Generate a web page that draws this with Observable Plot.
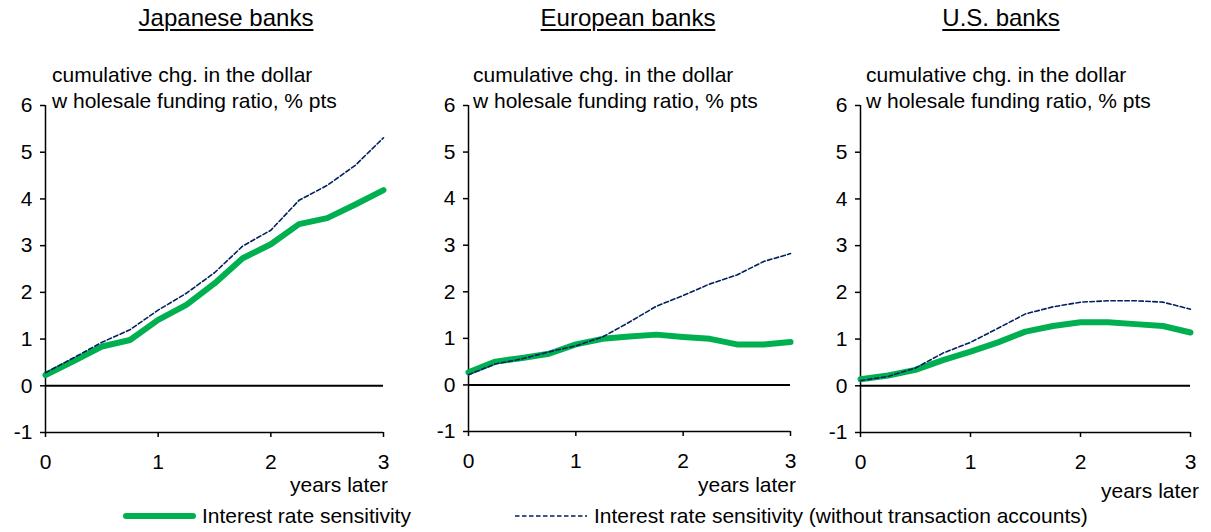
<!DOCTYPE html>
<html>
<head>
<meta charset="utf-8">
<script src="https://cdn.jsdelivr.net/npm/d3@7"></script>
<script src="https://cdn.jsdelivr.net/npm/@observablehq/plot@0.6"></script>
<style>
  html, body { margin: 0; padding: 0; background: #fff; }
  #root { position: relative; width: 1211px; height: 532px; overflow: hidden;
          font-family: "Liberation Sans", Arial, sans-serif; color: #000; }
  .abs { position: absolute; white-space: nowrap; }
  .title { font-size: 24px; line-height: 24px; text-decoration: underline;
           text-decoration-thickness: 2px; text-underline-offset: 3px; transform: translateX(-50%); }
  .sub { font-size: 21px; line-height: 26px; }
  .yl { font-size: 21px; line-height: 21px; transform: translateX(-100%); }
  .leg { font-size: 21px; line-height: 21px; }
</style>
</head>
<body>
<div id="root"></div>
<script>
// ---- data ----
const years = [0, 0.25, 0.5, 0.75, 1, 1.25, 1.5, 1.75, 2, 2.25, 2.5, 2.75, 3];

const panelTitles = ["Japanese banks", "European banks", "U.S. banks"];
const subtitleLines = ["cumulative chg. in the dollar", "w holesale funding ratio, % pts"];
const xLabel = "years later";
const seriesNames = ["Interest rate sensitivity", "Interest rate sensitivity (without transaction accounts)"];
const yTicks = [-1, 0, 1, 2, 3, 4, 5, 6];
const xTicks = [0, 1, 2, 3];

const japanRate   = [0.23, 0.53, 0.84, 0.98, 1.41, 1.73, 2.19, 2.73, 3.03, 3.46, 3.59, 3.88, 4.19];
const japanRateEx = [0.28, 0.60, 0.93, 1.20, 1.62, 1.98, 2.42, 2.99, 3.33, 3.97, 4.29, 4.72, 5.31];

const europeRate   = [0.27, 0.50, 0.58, 0.67, 0.87, 0.99, 1.04, 1.08, 1.03, 0.99, 0.87, 0.87, 0.92];
const europeRateEx = [0.22, 0.45, 0.56, 0.71, 0.84, 1.03, 1.35, 1.69, 1.92, 2.17, 2.36, 2.65, 2.82];

const usRate   = [0.14, 0.22, 0.34, 0.55, 0.73, 0.93, 1.16, 1.28, 1.36, 1.36, 1.32, 1.28, 1.14];
const usRateEx = [0.11, 0.20, 0.38, 0.70, 0.93, 1.23, 1.54, 1.69, 1.79, 1.82, 1.82, 1.79, 1.64];

const greenColor = "#00B050";
const navyColor = "#002060";

// ---- layout ----
const panels = [
  {title: panelTitles[0], rate: japanRate, rateEx: japanRateEx,
   left: 0, width: 405, mL: 45, mR: 22, mT: 105, mB: 68, titleX: 226, subX: 52, xlRight: 388, xlBase: 491},
  {title: panelTitles[1], rate: europeRate, rateEx: europeRateEx,
   left: 410, width: 400, mL: 58, mR: 20, mT: 105, mB: 69, titleX: 628, subX: 473, xlRight: 796, xlBase: 491},
  {title: panelTitles[2], rate: usRate, rateEx: usRateEx,
   left: 810, width: 401, mL: 50, mR: 21, mT: 105, mB: 68, titleX: 1001, subX: 866, xlRight: 1199, xlBase: 497}
];

const root = document.getElementById("root");
function addDiv(cls, text, left, top) {
  const d = document.createElement("div");
  d.className = "abs " + cls;
  d.textContent = text;
  d.style.left = left + "px";
  d.style.top = top + "px";
  root.appendChild(d);
  return d;
}

const fmt = d => String(d);
const H = 500;
panels.forEach(p => {
  const rateData = years.map((x, i) => ({year: x, value: p.rate[i]}));
  const rateExData = years.map((x, i) => ({year: x, value: p.rateEx[i]}));
  const chart = Plot.plot({
    width: p.width,
    height: H,
    marginLeft: p.mL, marginRight: p.mR, marginTop: p.mT, marginBottom: p.mB,
    style: {background: "transparent", color: "#000", fontFamily: "'Liberation Sans', Arial, sans-serif", overflow: "visible"},
    x: {domain: [0, 3]},
    y: {domain: [-1, 6]},
    marks: [
      Plot.ruleY([0], {stroke: "#000", strokeWidth: 2}),
      Plot.ruleY([-1], {stroke: "#000", strokeWidth: 1.5}),
      Plot.ruleX([0], {y1: -1, y2: 6, stroke: "#000", strokeWidth: 1.5}),
      Plot.axisY({ticks: yTicks, tickFormat: fmt, tickSize: 5, tickPadding: 8, fontSize: 21, label: null, strokeWidth: 1.5}),
      Plot.axisX({ticks: xTicks, tickFormat: fmt, tickSize: 5, tickPadding: 17, fontSize: 21, label: null, strokeWidth: 1.5}),
      Plot.line(rateData, {x: "year", y: "value", stroke: greenColor, strokeWidth: 6, strokeLinejoin: "round", strokeLinecap: "round"}),
      Plot.line(rateExData, {x: "year", y: "value", stroke: navyColor, strokeWidth: 1.6, strokeDasharray: "4.5,2.5"})
    ]
  });
  chart.style.position = "absolute";
  chart.style.top = "0px";
  chart.style.left = p.left + "px";
  root.appendChild(chart);

  addDiv("title", p.title, p.titleX, 6);
  addDiv("sub", subtitleLines[0], p.subX, 62);
  addDiv("sub", subtitleLines[1], p.subX, 88);
  addDiv("yl", xLabel, p.xlRight, p.xlBase - 17);
});

// ---- legend ----
function legendItem(x, textX, name, color, width, dash) {
  const ns = "http://www.w3.org/2000/svg";
  const s = document.createElementNS(ns, "svg");
  s.setAttribute("width", 80); s.setAttribute("height", 12);
  s.style.position = "absolute"; s.style.left = x + "px"; s.style.top = (516 - 6) + "px";
  const l = document.createElementNS(ns, "line");
  l.setAttribute("x1", dash ? 0 : width / 2); l.setAttribute("x2", dash ? 72 : 73 - width / 2);
  l.setAttribute("y1", 6); l.setAttribute("y2", 6);
  l.setAttribute("stroke", color); l.setAttribute("stroke-width", width);
  l.setAttribute("stroke-linecap", dash ? "butt" : "round");
  if (dash) l.setAttribute("stroke-dasharray", dash);
  s.appendChild(l);
  root.appendChild(s);
  addDiv("leg", name, textX, 505);
}
legendItem(123, 202, seriesNames[0], greenColor, 6, null);
legendItem(515, 594, seriesNames[1], navyColor, 1.6, "4.5,2.5");
</script>
</body>
</html>
